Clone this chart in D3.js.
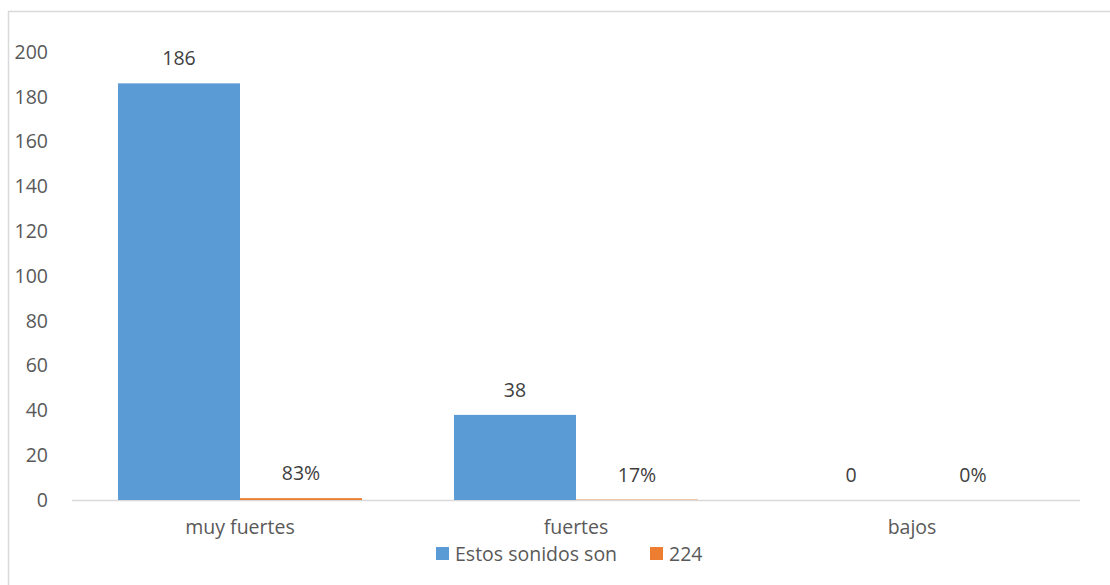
<!DOCTYPE html>
<html>
<head>
<meta charset="utf-8">
<script src="https://cdn.jsdelivr.net/npm/d3@7"></script>
<style>
    body { margin: 0; background: #fff; }
    text { font-family: "Open Sans", "Noto Sans", sans-serif; }
</style>
</head>
<body>
<script>
const categories = ["muy fuertes", "fuertes", "bajos"];
const seriesNames = ["Estos sonidos son", "224"];
const counts = [186, 38, 0];
const shares = [0.83, 0.17, 0];
const yTicks = [0, 20, 40, 60, 80, 100, 120, 140, 160, 180, 200];

const colors = ["#5b9bd5", "#ed7d31"];

const W = 1110, H = 585;

const svg = d3.select("body").append("svg")
    .attr("width", W)
    .attr("height", H);

// chart border
svg.append("rect")
    .attr("x", 8.5).attr("y", 11.5)
    .attr("width", W).attr("height", H)
    .style("fill", "none")
    .style("stroke", "#d9d9d9")
    .style("stroke-width", 1.5);

const x = d3.scaleBand()
    .domain(categories)
    .range([72, 1080])
    .paddingInner(0.274)
    .paddingOuter(0.137);

const xInner = d3.scaleBand()
    .domain(seriesNames)
    .range([0, x.bandwidth()]);

const y = d3.scaleLinear()
    .domain([0, 200])
    .range([500, 52]);

// y tick labels (no axis line)
const yAxis = svg.append("g")
    .attr("transform", "translate(48,0)")
    .call(d3.axisLeft(y).tickValues(yTicks).tickSize(0).tickPadding(0));
yAxis.select(".domain").remove();
yAxis.selectAll("text")
    .style("font-size", "19.5px")
    .style("fill", "#595959")
    .style("font-family", "'Open Sans', sans-serif");

// baseline
svg.append("line")
    .attr("x1", 72).attr("x2", 1080)
    .attr("y1", y(0) + 0.5).attr("y2", y(0) + 0.5)
    .style("stroke", "#d9d9d9")
    .style("stroke-width", 1.5);

const rows = categories.map((c, i) => ({cat: c, vals: [counts[i], shares[i]]}));

const groups = svg.selectAll(".grp")
    .data(rows)
    .enter().append("g")
    .attr("class", "grp")
    .attr("transform", d => "translate(" + x(d.cat) + ",0)");

groups.selectAll("rect")
    .data(d => d.vals.map((v, j) => ({name: seriesNames[j], v: v, j: j})))
    .enter().append("rect")
    .attr("x", d => xInner(d.name))
    .attr("y", d => y(d.v))
    .attr("width", xInner.bandwidth())
    .attr("height", d => y(0) - y(d.v))
    .style("fill", d => colors[d.j]);

groups.selectAll(".lbl")
    .data(d => d.vals.map((v, j) => ({name: seriesNames[j], v: v, j: j})))
    .enter().append("text")
    .attr("class", "lbl")
    .attr("x", d => xInner(d.name) + xInner.bandwidth() / 2)
    .attr("y", d => y(d.v) - 18)
    .attr("text-anchor", "middle")
    .style("font-size", "19.5px")
    .style("fill", "#404040")
    .text(d => d.j === 0 ? d.v : Math.round(d.v * 100) + "%");

// category labels
svg.selectAll(".cat")
    .data(categories)
    .enter().append("text")
    .attr("class", "cat")
    .attr("x", d => x(d) + x.bandwidth() / 2)
    .attr("y", 534)
    .attr("text-anchor", "middle")
    .style("font-size", "19.5px")
    .style("fill", "#595959")
    .text(d => d);

// legend
const legendX = [436, 650];
const legend = svg.selectAll(".leg")
    .data(seriesNames)
    .enter().append("g")
    .attr("class", "leg")
    .attr("transform", (d, i) => "translate(" + legendX[i] + ",547)");

legend.append("rect")
    .attr("width", 13).attr("height", 13)
    .style("fill", (d, i) => colors[i]);

legend.append("text")
    .attr("x", 19)
    .attr("y", 14)
    .style("font-size", "19.5px")
    .style("fill", "#595959")
    .text(d => d);
</script>
</body>
</html>
